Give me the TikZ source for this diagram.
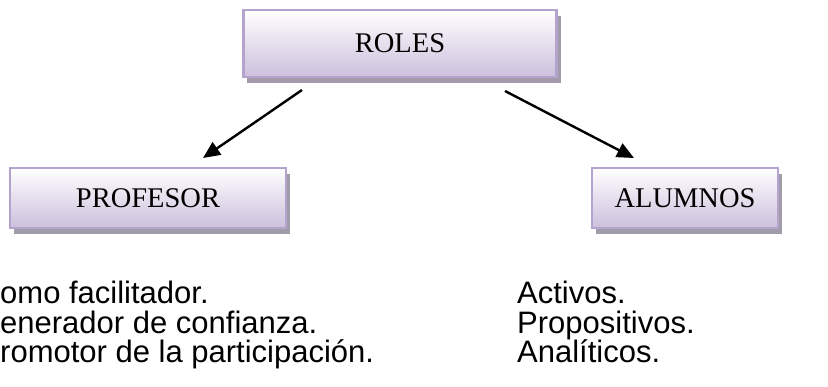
\documentclass[tikz,border=0pt]{standalone}
\usepackage{fontspec}
\setmainfont{Liberation Sans}
\newfontfamily\boxfont{Liberation Serif}
\usetikzlibrary{arrows.meta}
\definecolor{boxedge}{HTML}{B4A3CC}
\definecolor{boxlow}{HTML}{CCBFDC}
\definecolor{boxshade}{HTML}{A29CAA}
\tikzset{
  rolebox/.style={draw=boxedge, line width=2.6pt, top color=white, bottom color=boxlow,
    font=\boxfont\fontsize{28.5}{32}\selectfont, text=black, inner sep=0pt},
  shadowbox/.style={fill=boxshade, draw=none},
  link/.style={line width=2.4pt, -{Triangle[length=17pt,width=15pt]}},
  listtext/.style={anchor=base west, inner sep=0pt, font=\fontsize{31}{29.5}\selectfont, align=left}
}
\begin{document}
\begin{tikzpicture}[x=1pt,y=-1pt]
\useasboundingbox (0,0) rectangle (828,387);
% drop shadows behind the boxes
\fill[shadowbox] (247,16) rectangle (561,83);
\fill[shadowbox] (14,174) rectangle (290,234);
\fill[shadowbox] (596,174) rectangle (782,234);
% boxes
\node[rolebox, minimum width=313pt, minimum height=67pt] (roles) at (400,43.5) {ROLES};
\node[rolebox, minimum width=276pt, minimum height=60pt] (prof) at (148,198) {PROFESOR};
\node[rolebox, minimum width=186pt, minimum height=60pt] (alum) at (685,198) {ALUMNOS};
% arrow ends
\coordinate (l1) at (302,90);
\coordinate (l2) at (203,158);
\coordinate (r1) at (505,91);
\coordinate (r2) at (634,158);
\draw[link] (l1) -- (l2);
\draw[link] (r1) -- (r2);
% lists under the boxes (anchored on the baseline of the last line)
\node[listtext] (plist) at (0,363) {omo facilitador.\\enerador de confianza.\\romotor de la participación.};
\node[listtext] (alist) at (517,363) {Activos.\\Propositivos.\\Analíticos.};
\end{tikzpicture}
\end{document}
